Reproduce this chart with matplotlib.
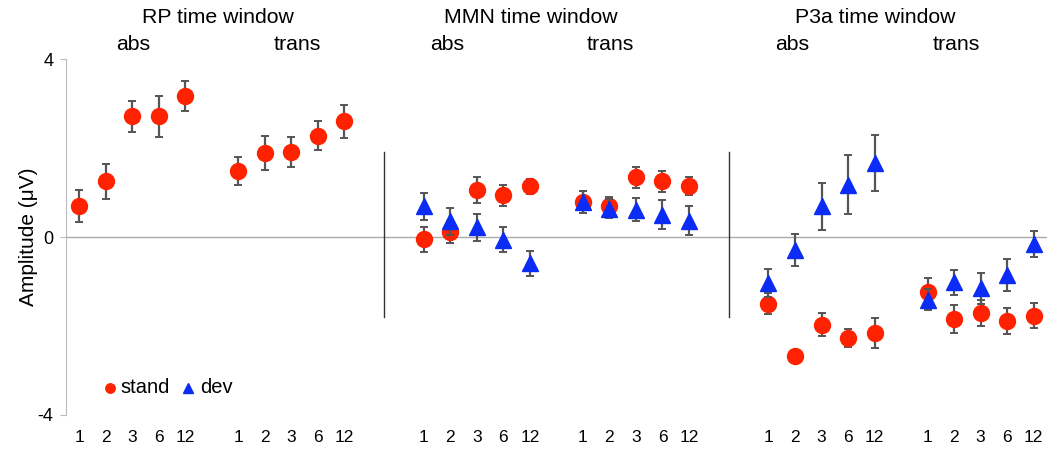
import numpy as np
from matplotlib import pyplot as plt

plt.rcParams['font.family'] = ['Liberation Sans', 'DejaVu Sans']

# data -------------------------------------------------------------
windows = ['RP time window', 'MMN time window', 'P3a time window']
conditions = ['abs', 'trans']
ratios = ['1', '2', '3', '6', '12']

# stand / dev means per window, order: abs 1..12, trans 1..12
stand_mean = {
    'RP':  [0.69, 1.25, 2.71, 2.71, 3.17, 1.49, 1.89, 1.91, 2.28, 2.60],
    'MMN': [-0.05, 0.12, 1.05, 0.94, 1.14, 0.78, 0.69, 1.34, 1.25, 1.15],
    'P3a': [-1.50, -2.68, -1.97, -2.27, -2.16, -1.24, -1.84, -1.71, -1.88, -1.77],
}
stand_err = {
    'RP':  [0.36, 0.40, 0.35, 0.46, 0.34, 0.31, 0.39, 0.34, 0.32, 0.37],
    'MMN': [0.28, 0.25, 0.29, 0.24, 0.17, 0.25, 0.22, 0.23, 0.24, 0.20],
    'P3a': [0.24, 0.15, 0.26, 0.21, 0.33, 0.33, 0.31, 0.30, 0.29, 0.28],
}
dev_mean = {
    'MMN': [0.69, 0.35, 0.22, -0.06, -0.59, 0.79, 0.64, 0.61, 0.50, 0.37],
    'P3a': [-1.03, -0.30, 0.69, 1.18, 1.66, -1.41, -1.02, -1.15, -0.85, -0.15],
}
dev_err = {
    'MMN': [0.30, 0.30, 0.30, 0.28, 0.28, 0.25, 0.22, 0.26, 0.33, 0.32],
    'P3a': [0.32, 0.36, 0.53, 0.66, 0.63, 0.24, 0.28, 0.35, 0.36, 0.29],
}

RED = '#ff2200'
BLUE = '#0a2cf5'
GREY = '#555555'

# layout -----------------------------------------------------------
fig = plt.figure(figsize=(10.57, 4.5), dpi=100)
ax = fig.add_axes([0.0624, 0.0778, 0.928, 0.791])

keys = ['RP', 'MMN', 'P3a']
title_off = [5.25, 4.02, 4.04]
cond_off = [(2.04, 8.23), (0.89, 7.04), (0.9, 7.1)]
xticks, xlabels = [], []
for g, key in enumerate(keys):
    base = g * 13
    x = np.r_[np.arange(5), np.arange(6, 11)] + base
    xticks += list(x)
    xlabels += ratios * 2
    ax.errorbar(x, stand_mean[key], yerr=stand_err[key], fmt='o', ms=11.5,
                color=RED, ecolor=GREY, elinewidth=1.6, capsize=3,
                capthick=1.4, zorder=3)
    if key in dev_mean:
        ax.errorbar(x, dev_mean[key], yerr=dev_err[key], fmt='^', ms=11,
                    color=BLUE, ecolor=GREY, elinewidth=1.6, capsize=3,
                    capthick=1.4, zorder=4)
    # headings
    ax.text(base + title_off[g], 4.93, windows[g], ha='center', va='center',
            fontsize=15.3, clip_on=False)
    for c, off in zip(conditions, cond_off[g]):
        ax.text(base + off, 4.32, c, ha='center', va='center',
                fontsize=15.3, clip_on=False)
    if g > 0:
        ax.plot([base - 1.5, base - 1.5], [1.91, -1.80], color='#333333',
                lw=1)

ax.axhline(0, color='#aaaaaa', lw=1, zorder=1)
ax.set_xlim(-0.5, 36.5)
ax.set_ylim(-4, 4)
ax.set_xticks(xticks)
ax.set_xticklabels(xlabels, fontsize=12.5)
ax.tick_params(axis='x', length=0, pad=11)
ax.set_yticks([-4, 0, 4])
ax.set_yticklabels(['-4', '0', '4'], fontsize=13)
ax.tick_params(axis='y', length=4, color='#bbbbbb', pad=5)
for s in ['top', 'right', 'bottom']:
    ax.spines[s].set_visible(False)
ax.spines['left'].set_color('#bbbbbb')
ax.set_ylabel('Amplitude (\u03bcV)', fontsize=15, labelpad=0)

# legend
ax.plot(1.17, -3.39, 'o', ms=6.8, color=RED)
ax.text(1.55, -3.39, 'stand', fontsize=14.5, va='center')
ax.plot(4.11, -3.39, '^', ms=6.5, color=BLUE)
ax.text(4.55, -3.39, 'dev', fontsize=14.5, va='center')

fig.savefig('out.png', dpi=100)
